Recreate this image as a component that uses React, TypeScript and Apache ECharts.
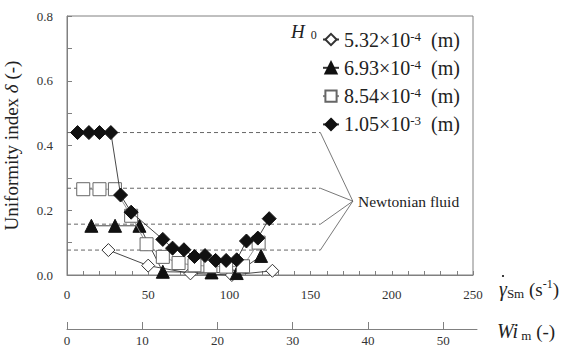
import React, { useEffect, useRef } from 'react';
import * as echarts from 'echarts';

// ---- data ----
const shearRateTickLabels = [0, 50, 100, 150, 200, 250];
const wiTickLabels = [0, 10, 20, 30, 40, 50];

const h532: [number, number][] = [[25.5, 0.077], [50, 0.029], [76, 0.005], [101.5, 0.0], [126.5, 0.013]];
const h693: [number, number][] = [[15, 0.152], [29.6, 0.152], [44.6, 0.152], [59, 0.01], [89, 0.008], [104.5, 0.006], [119.5, 0.059]];
const h854: [number, number][] = [[10, 0.265], [20, 0.265], [29.5, 0.265], [39.5, 0.183], [49, 0.095], [59, 0.056], [68.7, 0.037], [78.5, 0.03], [88.3, 0.027], [98, 0.026], [108.4, 0.027], [118, 0.1]];
const h105: [number, number][] = [[6.5, 0.44], [13.5, 0.44], [20, 0.44], [27, 0.44], [33, 0.247], [39.5, 0.194], [59, 0.11], [65, 0.083], [72, 0.078], [78.5, 0.057], [85, 0.06], [91.5, 0.045], [98, 0.045], [104.5, 0.047], [110.5, 0.105], [117.5, 0.114], [124.5, 0.174]];

const seriesNames = ['5.32×10-4 (m)', '6.93×10-4 (m)', '8.54×10-4 (m)', '1.05×10-3 (m)'];
const seriesMantissa = ['5.32', '6.93', '8.54', '1.05'];
const seriesExponent = ['-4', '-4', '-4', '-3'];

const newtonianLevels = [0.44, 0.268, 0.157, 0.077];
const newtonianDashEnd = 156;
const newtonianLabelPoint: [number, number] = [176, 0.228];

const SERIF = 'Liberation Serif';
const AXIS_GRAY = '#808080';
const TEXT = '#222';

export default function App() {
  const ref = useRef<HTMLDivElement>(null);

  useEffect(() => {
    if (!ref.current) return;
    const chart = echarts.init(ref.current, undefined, { renderer: 'svg' });

    const legendRich = {
      n: { fontSize: 20, fontFamily: SERIF, color: TEXT, lineHeight: 20 },
      sup: { fontSize: 13, fontFamily: SERIF, color: TEXT, lineHeight: 13, verticalAlign: 'top' },
    };

    const dataSeriesDefs = [
      { data: h532, symbol: 'diamond', size: 13, fill: '#fff', border: '#333', line: '#333' },
      { data: h693, symbol: 'triangle', size: 13, fill: '#111', border: '#111', line: '#333' },
      { data: h854, symbol: 'rect', size: 13, fill: '#fff', border: '#666', line: '#888' },
      { data: h105, symbol: 'diamond', size: 14, fill: '#111', border: '#111', line: '#333' },
    ];

    const dataSeries = dataSeriesDefs.map((d, i) => ({
      type: 'line',
      name: seriesNames[i],
      xAxisIndex: 0,
      yAxisIndex: 0,
      data: d.data,
      symbol: d.symbol,
      symbolSize: d.size,
      showAllSymbol: true,
      clip: false,
      z: 3 + i,
      itemStyle: { color: d.fill, borderColor: d.border, borderWidth: 1, opacity: 1 },
      lineStyle: { color: d.line, width: 0.9 },
      emphasis: { disabled: true },
    }));

    const dashSeries = newtonianLevels.map((lvl) => ({
      type: 'line',
      xAxisIndex: 0,
      yAxisIndex: 0,
      data: [[0, lvl], [newtonianDashEnd, lvl]],
      symbol: 'none',
      silent: true,
      z: 1,
      lineStyle: { color: '#666', width: 1, type: [4, 3] },
    }));
    const slantSeries = newtonianLevels.map((lvl) => ({
      type: 'line',
      xAxisIndex: 0,
      yAxisIndex: 0,
      data: [[newtonianDashEnd, lvl], newtonianLabelPoint],
      symbol: 'none',
      silent: true,
      z: 1,
      lineStyle: { color: '#555', width: 0.8 },
    }));

    const option: any = {
      animation: false,
      grid: [
        { left: 67, top: 16, width: 406, height: 259, show: true, borderColor: AXIS_GRAY, borderWidth: 1, backgroundColor: 'transparent', outerBoundsMode: 'none', containLabel: false },
        { left: 67, top: 300, width: 410, height: 29, show: false, outerBoundsMode: 'none', containLabel: false },
      ],
      xAxis: [
        {
          type: 'value', gridIndex: 0, min: 0, max: 250, interval: 10,
          axisLine: { show: true, lineStyle: { color: AXIS_GRAY, width: 1 } },
          axisTick: { show: true, inside: true, length: 4, lineStyle: { color: AXIS_GRAY } },
          splitLine: { show: false },
          axisLabel: {
            margin: 13, fontSize: 13, fontFamily: SERIF, color: '#333',
            formatter: (v: number) => (shearRateTickLabels.includes(Math.round(v)) ? String(Math.round(v)) : ''),
          },
        },
        {
          type: 'value', gridIndex: 1, min: 0, max: 54.5, interval: 10,
          axisLine: { show: true, onZero: false, lineStyle: { color: AXIS_GRAY, width: 1 } },
          axisTick: { show: true, inside: true, length: 7, lineStyle: { color: AXIS_GRAY } },
          splitLine: { show: false },
          axisLabel: {
            margin: 5, fontSize: 13, fontFamily: SERIF, color: '#333', showMaxLabel: false,
            formatter: (v: number) => (wiTickLabels.includes(Math.round(v)) ? String(Math.round(v)) : ''),
          },
        },
      ],
      yAxis: [
        {
          type: 'value', gridIndex: 0, min: 0, max: 0.8, interval: 0.1,
          axisLine: { show: true, onZero: false, lineStyle: { color: AXIS_GRAY, width: 1 } },
          axisTick: { show: true, inside: true, length: 5, lineStyle: { color: AXIS_GRAY } },
          splitLine: { show: false },
          axisLabel: {
            margin: 14, fontSize: 13, fontFamily: SERIF, color: '#333',
            formatter: (v: number) => (Math.round(v * 10) % 2 === 0 ? v.toFixed(1) : ''),
          },
          name: 'Uniformity index {i|δ} (-)',
          nameLocation: 'middle',
          nameGap: 46,
          nameTextStyle: {
            fontSize: 19, fontFamily: SERIF, color: TEXT,
            rich: { i: { fontSize: 19, fontFamily: SERIF, fontStyle: 'italic', color: TEXT } },
          },
        },
        { type: 'value', gridIndex: 1, show: false, min: 0, max: 1 },
      ],
      legend: {
        show: true,
        orient: 'vertical',
        left: 322,
        top: 29.5,
        padding: 0,
        itemWidth: 16,
        itemHeight: 14,
        itemGap: 8.3,
        data: seriesNames,
        selectedMode: false,
        formatter: (name: string) => {
          const i = seriesNames.indexOf(name);
          return `{n|${seriesMantissa[i]}×10}{sup|${seriesExponent[i]}}{n|  (m)}`;
        },
        textStyle: { fontSize: 20, lineHeight: 20, fontFamily: SERIF, color: TEXT, rich: legendRich },
      },
      graphic: [
        {
          type: 'text', x: 291, y: 31,
          style: {
            text: '{h|H}{s|  0}',
            verticalAlign: 'middle',
            rich: {
              h: { fontSize: 19, fontFamily: SERIF, fontStyle: 'italic', fill: TEXT, lineHeight: 20 },
              s: { fontSize: 12, fontFamily: SERIF, fill: TEXT, lineHeight: 12, verticalAlign: 'bottom' },
            },
          },
        },
        {
          type: 'text', x: 358, y: 201,
          style: { text: 'Newtonian fluid', fontSize: 15.5, fontFamily: SERIF, fill: TEXT, verticalAlign: 'middle' },
        },
        {
          type: 'text', x: 499, y: 289,
          style: {
            text: '{g|γ}{sub|Sm}{n| (s}{sup|-1}{n|)}',
            verticalAlign: 'middle',
            rich: {
              g: { fontSize: 20, fontFamily: SERIF, fontStyle: 'italic', fill: TEXT, lineHeight: 22 },
              sub: { fontSize: 13, fontFamily: SERIF, fill: TEXT, lineHeight: 13, verticalAlign: 'bottom' },
              n: { fontSize: 19, fontFamily: SERIF, fill: TEXT, lineHeight: 22 },
              sup: { fontSize: 12, fontFamily: SERIF, fill: TEXT, lineHeight: 12, verticalAlign: 'top' },
            },
          },
        },
        { type: 'circle', shape: { cx: 503, cy: 276, r: 1.1 }, style: { fill: TEXT } },
        {
          type: 'text', x: 497, y: 331,
          style: {
            text: '{w|Wi}{sub| m}{n| (-)}',
            verticalAlign: 'middle',
            rich: {
              w: { fontSize: 20, fontFamily: SERIF, fontStyle: 'italic', fill: TEXT, lineHeight: 22 },
              sub: { fontSize: 13, fontFamily: SERIF, fill: TEXT, lineHeight: 13, verticalAlign: 'bottom' },
              n: { fontSize: 19, fontFamily: SERIF, fill: TEXT, lineHeight: 22 },
            },
          },
        },
      ],
      series: [...dashSeries, ...slantSeries, ...dataSeries],
    };

    chart.setOption(option);
    return () => chart.dispose();
  }, []);

  return (
    <div
      ref={ref}
      style={{ position: 'fixed', left: 0, top: 0, width: 571, height: 347, background: '#fff' }}
    />
  );
}
